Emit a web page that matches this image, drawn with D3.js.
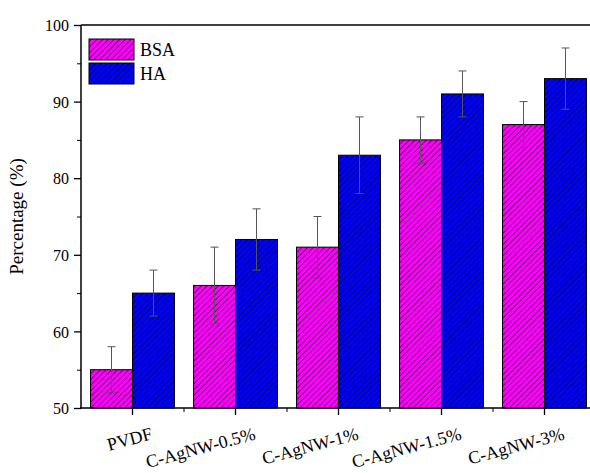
<!DOCTYPE html>
<html><head><meta charset="utf-8">
<script src="https://cdn.jsdelivr.net/npm/d3@7"></script>
<style>body{margin:0;background:#fff}svg{display:block}svg text{font-family:"Liberation Serif","Times New Roman",Tinos,serif !important;fill:#000}</style>
</head><body><svg id="c" width="590" height="473"></svg>
<script>
const categories = ["PVDF","C-AgNW-0.5%","C-AgNW-1%","C-AgNW-1.5%","C-AgNW-3%"];
const series = ["BSA","HA"];
const bsaValues = [55,66,71,85,87];
const bsaErrors = [3,5,4,3,3];
const haValues = [65,72,83,91,93];
const haErrors = [3,4,5,3,4];
const yTicks = [50,60,70,80,90,100];
const colors = ["#ff00ff","#0000ff"];

(function(){
const svg = d3.select("#c");
const mL = 81, mT = 25, mB = 408, mR = 596;
const x = d3.scaleBand().domain(categories).range([mL,mR]).paddingInner(0.185).paddingOuter(0.0925);
const xs = d3.scaleBand().domain(series).range([0,x.bandwidth()]);
const y = d3.scaleLinear().domain([50,100]).range([mB,mT]);

const defs = svg.append("defs");
colors.forEach((c,i)=>{
  const p = defs.append("pattern").attr("id","h"+i).attr("patternUnits","userSpaceOnUse")
    .attr("width",4).attr("height",4).attr("patternTransform","rotate(45)");
  p.append("rect").attr("width",4).attr("height",4).attr("fill",c);
  p.append("line").attr("x1",0).attr("y1",0).attr("x2",0).attr("y2",4).attr("stroke","#000").attr("stroke-width",1.1);
});

const data = categories.map((c,i)=>({c, vals:[{s:"BSA",v:bsaValues[i],e:bsaErrors[i]},{s:"HA",v:haValues[i],e:haErrors[i]}]}));

const g = svg.append("g");
data.forEach(d=>{
  d.vals.forEach((b,j)=>{
    const bx = x(d.c)+xs(b.s);
    g.append("rect").attr("x",bx).attr("y",y(b.v)).attr("width",xs.bandwidth()).attr("height",mB-y(b.v))
      .attr("fill","url(#h"+j+")").attr("stroke","#000").attr("stroke-width",1);
  });
});
data.forEach(d=>{
  d.vals.forEach(b=>{
    const cx = x(d.c)+xs(b.s)+xs.bandwidth()/2;
    const y1 = y(b.v+b.e), y2 = y(b.v-b.e);
    g.append("line").attr("x1",cx).attr("x2",cx).attr("y1",y1).attr("y2",y2).attr("stroke","#555").attr("stroke-width",1);
    [y1,y2].forEach(yy=>g.append("line").attr("x1",cx-4).attr("x2",cx+4).attr("y1",yy).attr("y2",yy).attr("stroke","#555").attr("stroke-width",1));
  });
});

// axes
const yAxis = d3.axisLeft(y).tickValues(yTicks).tickSize(7).tickPadding(5);
const ya = svg.append("g").attr("transform",`translate(${mL},0)`).call(yAxis);
ya.attr("font-family",null);
ya.selectAll("text").attr("dy","0.35em").style("font-size","16px");
ya.selectAll(".tick line").attr("stroke-width",1.3);
ya.select(".domain").remove();
const yMinor = d3.axisLeft(y).tickValues([55,65,75,85,95]).tickSize(4).tickFormat("");
svg.append("g").attr("transform",`translate(${mL},0)`).call(yMinor).select(".domain").remove();
svg.append("line").attr("x1",mL).attr("x2",mL).attr("y1",mT).attr("y2",mB+1).attr("stroke","#000").attr("stroke-width",1.5);
svg.append("line").attr("x1",mL).attr("x2",590).attr("y1",mT).attr("y2",mT).attr("stroke","#000").attr("stroke-width",1.5);

const centers = categories.map(c=>x(c)+x.bandwidth()/2);
const step = x.step();
const xa = svg.append("g").attr("transform",`translate(0,${mB})`);
xa.append("line").attr("x1",mL-1).attr("x2",590).attr("y1",0).attr("y2",0).attr("stroke","#000").attr("stroke-width",1.5);
centers.forEach(cx=>xa.append("line").attr("x1",cx).attr("x2",cx).attr("y1",0).attr("y2",7).attr("stroke","#000").attr("stroke-width",1.3));
centers.slice(0,-1).forEach(cx=>xa.append("line").attr("x1",cx+step/2).attr("x2",cx+step/2).attr("y1",0).attr("y2",4).attr("stroke","#000").attr("stroke-width",1));
categories.forEach((c,i)=>{
  svg.append("text").attr("transform",`translate(${centers[i]+21},${mB+31}) rotate(-15)`)
    .attr("text-anchor","end").style("font-size","18px").text(c);
});

svg.append("text").attr("transform",`translate(23,${(mT+mB)/2}) rotate(-90)`).attr("text-anchor","middle")
  .style("font-size","19px").text("Percentage (%)");

// legend
series.forEach((s,i)=>{
  const ly = 39 + i*24;
  svg.append("rect").attr("x",89).attr("y",ly).attr("width",45).attr("height",21).attr("fill","url(#h"+i+")").attr("stroke","#000").attr("stroke-width",1);
  svg.append("text").attr("x",140).attr("y",ly+17).style("font-size","18px").text(s);
});
})();
</script></body></html>
